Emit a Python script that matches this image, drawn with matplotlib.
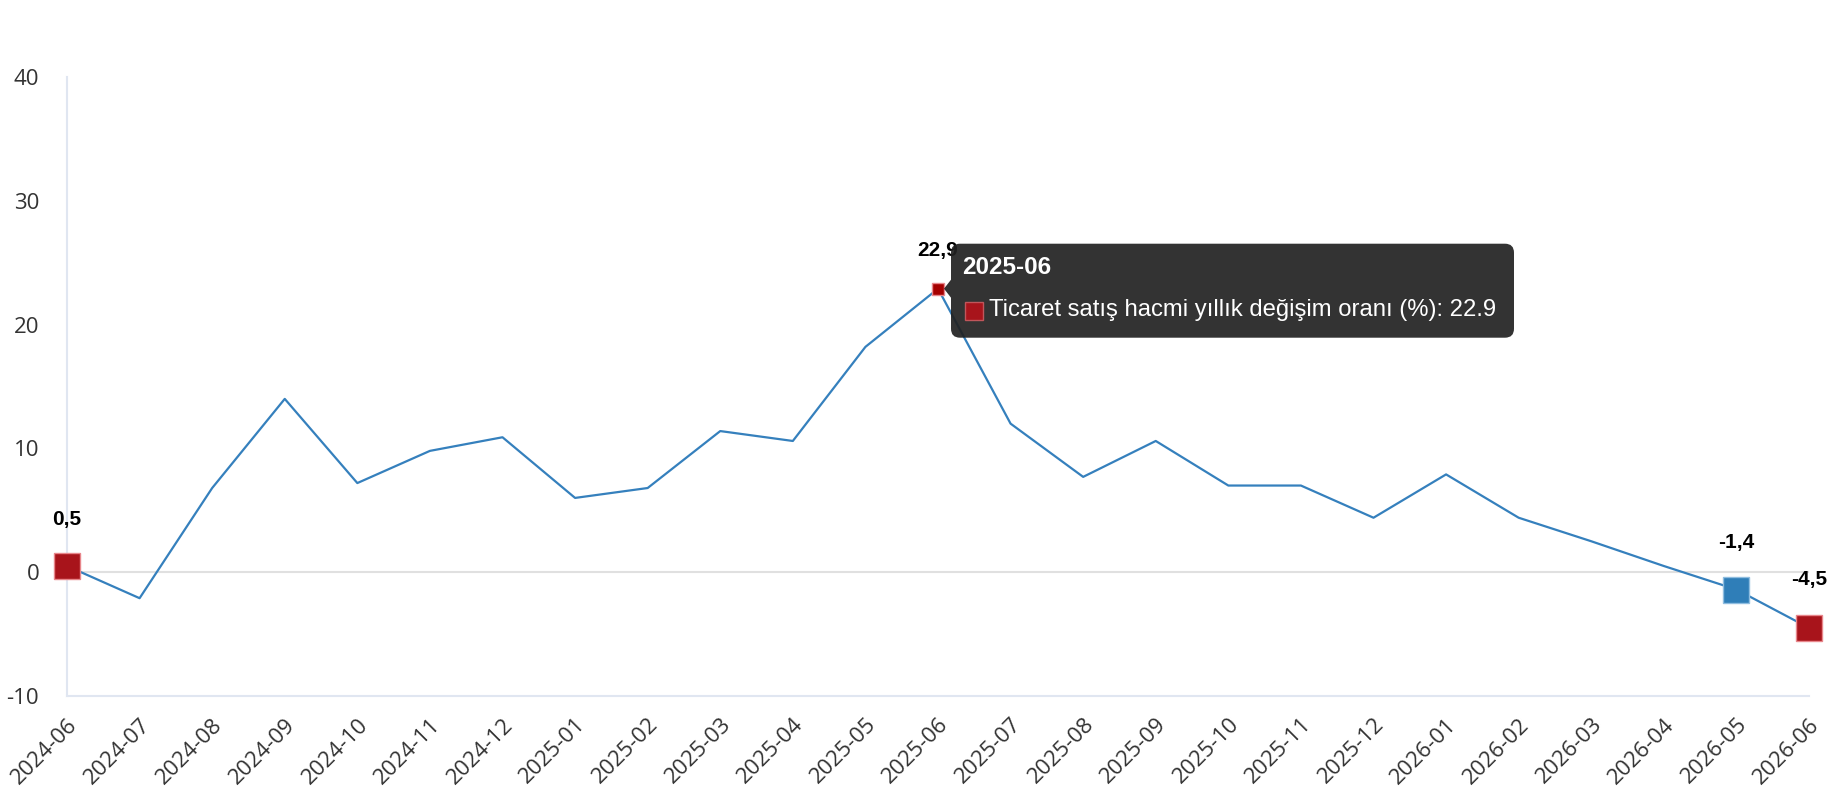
import matplotlib
matplotlib.use('Agg')
import matplotlib.pyplot as plt
from matplotlib.patches import FancyBboxPatch, Polygon, Rectangle
from matplotlib.transforms import IdentityTransform

months = ['2024-06', '2024-07', '2024-08', '2024-09', '2024-10', '2024-11', '2024-12',
          '2025-01', '2025-02', '2025-03', '2025-04', '2025-05', '2025-06', '2025-07',
          '2025-08', '2025-09', '2025-10', '2025-11', '2025-12', '2026-01', '2026-02',
          '2026-03', '2026-04', '2026-05', '2026-06']
values = [0.5, -2.1, 6.8, 14.0, 7.2, 9.8, 10.9, 6.0, 6.8, 11.4, 10.6, 18.2, 22.9, 12.0,
          7.7, 10.6, 7.0, 7.0, 4.4, 7.9, 4.4, 2.5, 0.5, -1.4, -4.5]
y_ticks = [-10, 0, 10, 20, 30, 40]
series_name = 'Ticaret satış hacmi yıllık değişim oranı (%)'
hover_index = 12

RED = '#a8141b'
RED_EDGE = '#e8868b'
BLUE = '#2f7eb8'
BLUE_EDGE = '#8fbde0'
LINE = '#3580bd'

W, H = 1830, 800
fig = plt.figure(figsize=(W / 100, H / 100), dpi=100)
ax = fig.add_axes([67 / W, 1 - 696 / H, (1809 - 67) / W, (696 - 77) / H])

x = list(range(len(months)))
ax.plot(x, values, color=LINE, lw=1.6, zorder=3, clip_on=False)

# highlighted markers
big = [(0, RED, RED_EDGE), (23, BLUE, BLUE_EDGE), (24, RED, RED_EDGE)]
for i, c, e in big:
    ax.plot(x[i], values[i], marker='s', ms=19, mfc=c, mec=e, mew=1.0,
            zorder=5, clip_on=False)
ax.plot(x[hover_index], values[hover_index], marker='s', ms=8.5, mfc='#a50000',
        mec=RED_EDGE, mew=1.0, zorder=5, clip_on=False)

# data labels
lab_font = dict(family='Liberation Sans', fontsize=15, fontweight='bold', color='black')
for i, off in [(0, 47), (12, 38), (23, 47), (24, 48)]:
    txt = f'{values[i]:.1f}'.replace('.', ',')
    ax.annotate(txt, (x[i], values[i]), xytext=(0, off), textcoords='offset pixels',
                ha='center', va='center', zorder=6, annotation_clip=False, **lab_font)

ax.set_xlim(0, len(months) - 1)
ax.set_ylim(-10, 40)
ax.set_yticks(y_ticks)
ax.set_yticklabels([str(t) for t in y_ticks])
ax.set_xticks(x)
ax.set_xticklabels(months, rotation=45, ha='right', va='top', rotation_mode='anchor')
ax.tick_params(axis='both', length=0, labelsize=16, labelcolor='#333333')
ax.tick_params(axis='y', pad=20)
ax.tick_params(axis='x', pad=13)
for lbl in ax.get_xticklabels() + ax.get_yticklabels():
    lbl.set_fontfamily('Open Sans')

for s in ['top', 'right']:
    ax.spines[s].set_visible(False)
for s in ['left', 'bottom']:
    ax.spines[s].set_color('#e0e6f1')
    ax.spines[s].set_linewidth(1.5)
ax.axhline(0, color='#e0e0e0', lw=1.5, zorder=1)

# tooltip (drawn in pixel coordinates relative to hovered point)
fig.canvas.draw()
px, py = ax.transData.transform((x[hover_index], values[hover_index]))
bx0, bx1 = px + 13, px + 576
by1, by0 = py + 45, py - 49
TIP = '#212121'
box = FancyBboxPatch((bx0, by0), bx1 - bx0, by1 - by0,
                     boxstyle='round,pad=0,rounding_size=9',
                     transform=IdentityTransform(), facecolor=TIP,
                     edgecolor='none', alpha=0.92, zorder=10)
fig.add_artist(box)
tri = Polygon([(bx0, py + 9), (bx0, py - 9), (bx0 - 7, py)], closed=True,
              transform=IdentityTransform(), facecolor=TIP, edgecolor='none',
              alpha=0.92, zorder=10)
fig.add_artist(tri)
fig.text(bx0 + 11, py + 21, months[hover_index], transform=IdentityTransform(),
         color='white', fontsize=17.5, fontweight='bold', family='Liberation Sans',
         ha='left', va='center', zorder=11)
sq = Rectangle((bx0 + 14, py - 31), 18, 18, transform=IdentityTransform(),
               facecolor=RED, edgecolor='#c0565b', lw=1, zorder=11)
fig.add_artist(sq)
fig.text(bx0 + 38, py - 21, f'{series_name}: {values[hover_index]}',
         transform=IdentityTransform(), color='white', fontsize=17.2,
         family='Liberation Sans', ha='left', va='center', zorder=11)

fig.savefig('out.png', dpi=100)
